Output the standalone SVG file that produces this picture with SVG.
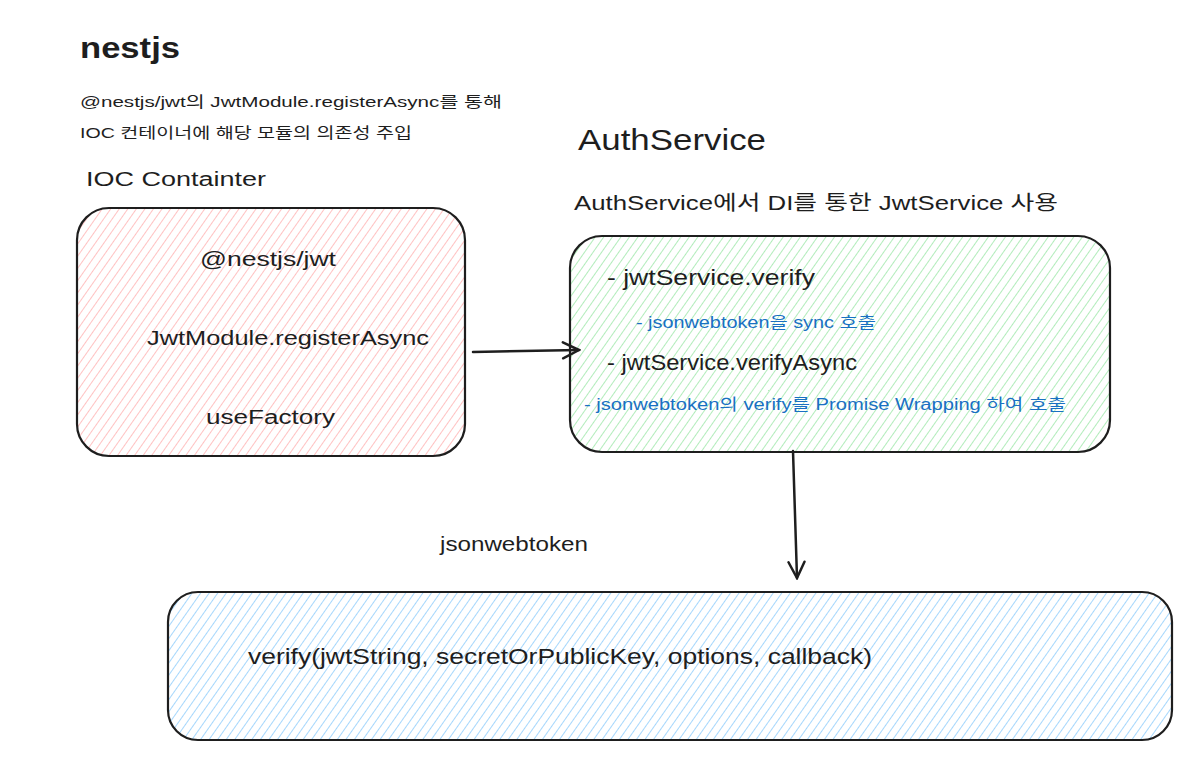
<svg xmlns="http://www.w3.org/2000/svg" width="1198" height="778" viewBox="0 0 1198 778">
<defs>
<style>
text{font-family:"Liberation Sans","Noto Sans CJK KR",sans-serif;fill:#1e1e1e}
.box{stroke:#1e1e1e;stroke-width:2.2}
.con{stroke:#1e1e1e;stroke-width:2.5;fill:none;stroke-linecap:round}
.blue{fill:#1971c2}
</style>
<pattern id="hr" width="7" height="7" patternUnits="userSpaceOnUse" patternTransform="rotate(35)"><line x1="0" y1="0" x2="0" y2="7" stroke="#ffb3b3" stroke-width="1.6"/></pattern>
<pattern id="hg" width="7" height="7" patternUnits="userSpaceOnUse" patternTransform="rotate(35)"><line x1="0" y1="0" x2="0" y2="7" stroke="#9ee8a9" stroke-width="1.6"/></pattern>
<pattern id="hb" width="7" height="7" patternUnits="userSpaceOnUse" patternTransform="rotate(35)"><line x1="0" y1="0" x2="0" y2="7" stroke="#8fcdfb" stroke-width="1.6"/></pattern>
<marker id="ah" viewBox="0 0 20 20" refX="18" refY="10" markerWidth="20" markerHeight="20" markerUnits="userSpaceOnUse" orient="auto"><path d="M2,2 L18,10 L2,18" fill="none" stroke="#1e1e1e" stroke-width="2.5" stroke-linecap="round"/></marker>
</defs>
<rect width="1198" height="778" fill="#ffffff"/>

<g id="titles">
<text x="80" y="58" font-size="30" font-weight="bold" textLength="100" lengthAdjust="spacingAndGlyphs">nestjs</text>
<text x="80" y="107" font-size="15" textLength="422" lengthAdjust="spacingAndGlyphs">@nestjs/jwt의 JwtModule.registerAsync를 통해</text>
<text x="80" y="138" font-size="15" textLength="332" lengthAdjust="spacingAndGlyphs">IOC 컨테이너에 해당 모듈의 의존성 주입</text>
<text x="86" y="186" font-size="20" textLength="180" lengthAdjust="spacingAndGlyphs">IOC Containter</text>
<text x="578" y="150" font-size="30" textLength="188" lengthAdjust="spacingAndGlyphs">AuthService</text>
<text x="574" y="210" font-size="20" textLength="484" lengthAdjust="spacingAndGlyphs">AuthService에서 DI를 통한 JwtService 사용</text>
<text x="440" y="551" font-size="20" textLength="148" lengthAdjust="spacingAndGlyphs">jsonwebtoken</text>
</g>

<g id="ioc">
<rect class="box" x="77" y="208" width="388" height="248" rx="32" fill="url(#hr)"/>
<text x="200" y="266" font-size="20" textLength="136" lengthAdjust="spacingAndGlyphs">@nestjs/jwt</text>
<text x="147" y="345" font-size="20" textLength="282" lengthAdjust="spacingAndGlyphs">JwtModule.registerAsync</text>
<text x="206" y="424" font-size="20" textLength="129" lengthAdjust="spacingAndGlyphs">useFactory</text>
</g>

<g id="auth">
<rect class="box" x="570" y="236" width="540" height="216" rx="32" fill="url(#hg)"/>
<text x="607" y="285" font-size="22" textLength="208" lengthAdjust="spacingAndGlyphs">- jwtService.verify</text>
<text class="blue" x="636" y="328" font-size="16" textLength="240" lengthAdjust="spacingAndGlyphs">- jsonwebtoken을 sync 호출</text>
<text x="607" y="370" font-size="22" textLength="250" lengthAdjust="spacingAndGlyphs">- jwtService.verifyAsync</text>
<text class="blue" x="584" y="410" font-size="16" textLength="482" lengthAdjust="spacingAndGlyphs">- jsonwebtoken의 verify를 Promise Wrapping 하여 호출</text>
</g>

<g id="jwt">
<rect class="box" x="168" y="592" width="1004" height="148" rx="30" fill="url(#hb)"/>
<text x="248" y="664" font-size="22" textLength="624" lengthAdjust="spacingAndGlyphs">verify(jwtString, secretOrPublicKey, options, callback)</text>
</g>

<g id="connectors">
<path class="con" d="M473,352 L579,350" marker-end="url(#ah)"/>
<path class="con" d="M793,451 L797,578" marker-end="url(#ah)"/>
</g>
</svg>
